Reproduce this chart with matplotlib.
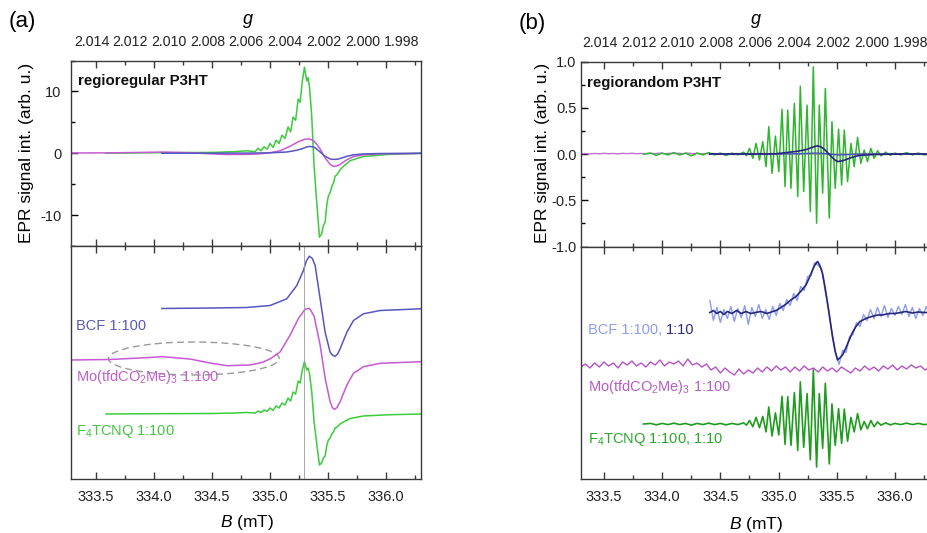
import numpy as np
import matplotlib
matplotlib.use('Agg')
import matplotlib.pyplot as plt
from matplotlib.patches import Ellipse
from matplotlib.ticker import MultipleLocator, FormatStrFormatter, NullLocator

plt.rcParams['font.family'] = ['Liberation Sans', 'DejaVu Sans']
plt.rcParams['mathtext.fontset'] = 'custom'
plt.rcParams['mathtext.rm'] = 'Liberation Sans'
plt.rcParams['mathtext.it'] = 'Liberation Sans:italic'
plt.rcParams['mathtext.default'] = 'regular'
plt.rcParams['axes.unicode_minus'] = False

# g = G_CONST / B(mT)
G_CONST = 2.002 * 335.465
g_ticks = [2.014, 2.012, 2.010, 2.008, 2.006, 2.004, 2.002, 2.000, 1.998]

# ---- panel (a): regioregular P3HT, normalised traces (bottom panel units) ----
a_f4_B = [333.59, 334.0, 334.5, 334.7, 334.8, 334.872, 334.898, 334.924, 334.950, 334.976,
          335.001, 335.027, 335.053, 335.079, 335.104, 335.130, 335.156, 335.178, 335.199, 335.221,
          335.243, 335.260, 335.277, 335.297, 335.317, 335.328, 335.341, 335.360, 335.380, 335.404,
          335.426, 335.445, 335.460, 335.475, 335.490, 335.503, 335.518, 335.533, 335.547, 335.561,
          335.578, 335.604, 335.633, 335.656, 335.690, 335.805, 336.006, 336.30]
a_f4_y = [0, 0.3, 0.5, 1, 1.5, 1, 3, 1.5, 4, 2.5,
          6, 3.5, 8, 6, 11, 9, 16, 13, 22, 20,
          33, 31, 43, 52.3, 44, 46, 40, 22, -8, -31,
          -51, -49, -44, -42, -31, -26, -24, -20, -18, -14,
          -13, -10, -8, -6.5, -4.5, -2, -0.8, 0]

a_mo_B = [333.29, 333.62, 333.88, 334.08, 334.31, 334.485, 334.63, 334.83, 334.93, 335.00,
          335.087, 335.174, 335.246, 335.30, 335.34, 335.38, 335.432, 335.475, 335.518, 335.537,
          335.555, 335.578, 335.604, 335.662, 335.719, 335.805, 335.949, 336.30]
a_mo_y = [1, 1.5, 3, 4.3, 2, -2, -4.7, -4, -1.5, 2,
          9, 26, 42.7, 51.5, 52.7, 45, 16, -17.3, -40.7, -46.5,
          -48.3, -46.5, -40.7, -24, -12.3, -5.7, -2.3, -0.7]

a_bcf_B = [334.07, 334.5, 334.8, 335.001, 335.145, 335.231, 335.288, 335.315, 335.340, 335.365,
           335.389, 335.432, 335.475, 335.518, 335.540, 335.561, 335.582, 335.604, 335.662, 335.719,
           335.805, 335.949, 336.30]
a_bcf_y = [0, 0.5, 1, 3, 9.7, 23, 38, 48, 52.3, 50,
           43, 9.7, -23.7, -43.7, -46.8, -47.7, -45.5, -40.3, -23.7, -12,
           -5.3, -2, -0.3]

# amplitude of each trace in the upper panel (arb. u. per normalised unit)
a_top_scale = {'f4': 0.266, 'mo': 0.044, 'bcf': 0.021}
a_offset = {'f4': 64.5, 'mo': 117.5, 'bcf': 170}

# ---- panel (b): regiorandom P3HT ----
b_f4_B = [333.84, 333.90, 333.95, 334.00, 334.05, 334.10, 334.15, 334.20, 334.25, 334.30,
          334.35, 334.40, 334.45, 334.50, 334.55, 334.60, 334.65, 334.70, 334.725, 334.750,
          334.779, 334.807, 334.836, 334.864, 334.893, 334.916, 334.944, 334.973, 335.002, 335.030,
          335.056, 335.079, 335.107, 335.136, 335.165, 335.187, 335.216, 335.245, 335.273, 335.299,
          335.327, 335.350, 335.379, 335.402, 335.436, 335.459, 335.487, 335.516, 335.542, 335.565,
          335.593, 335.622, 335.650, 335.679, 335.707, 335.736, 335.764, 335.793, 335.821, 335.851,
          335.88, 335.92, 335.96, 336.00, 336.05, 336.10, 336.15, 336.20, 336.25, 336.31]
b_f4_v = [0, 0.01, -0.015, 0.01, -0.01, 0.015, -0.01, 0.01, -0.02, 0.01,
          -0.01, 0.015, -0.01, 0.01, -0.015, 0.01, -0.01, 0.02, -0.02, 0.061,
          -0.047, 0.115, -0.065, 0.133, -0.137, 0.295, -0.209, 0.194, -0.191, 0.482,
          -0.353, 0.475, -0.371, 0.547, -0.46, 0.733, -0.406, 0.529, -0.622, 0.942,
          -0.748, 0.529, -0.424, 0.708, -0.694, 0.349, -0.371, 0.267, -0.335, 0.259,
          -0.299, 0.115, -0.137, 0.18, -0.101, 0.043, -0.083, 0.061, -0.047, 0.036,
          -0.02, 0.02, -0.015, 0.01, -0.01, 0.015, -0.01, 0.01, -0.01, 0.0]

b_bcf10_B = [334.41, 334.44, 334.47, 334.50, 334.53, 334.56, 334.60, 334.64, 334.68, 334.72,
             334.76, 334.80, 334.85, 334.90, 334.95, 334.98, 335.02, 335.06, 335.10, 335.15,
             335.19, 335.236, 335.265, 335.292, 335.315, 335.335, 335.355, 335.378, 335.40, 335.421,
             335.443, 335.464, 335.485, 335.507, 335.53, 335.55, 335.58, 335.607, 335.635, 335.665,
             335.70, 335.75, 335.80, 335.85, 335.893, 335.95, 336.0, 336.05, 336.093, 336.15,
             336.2, 336.25, 336.31]
b_bcf10_y = [0, 2, -1, 1, -2, 1, -1, 2, -1, 1,
             -1, 0, 1, -1, 1, 2, 5, 8, 12, 16,
             21, 27.5, 35, 42.5, 48, 51, 47, 39, 25, 9,
             -8, -24, -38, -47.5, -45, -42.5, -35, -27.5, -20, -14,
             -9, -6, -4, -2.5, -2.5, -1, -1, 0, 1, -0.5,
             0.5, 0, 0]

b_bcf100_B = [334.41, 334.44, 334.47, 334.50, 334.53, 334.56, 334.59, 334.62, 334.65, 334.68,
              334.71, 334.74, 334.77, 334.80, 334.83, 334.86, 334.89, 334.92, 334.95, 334.98,
              335.01, 335.04, 335.07, 335.10, 335.13, 335.16, 335.19, 335.22, 335.25, 335.28,
              335.31, 335.34, 335.37, 335.40, 335.43, 335.46, 335.49, 335.52, 335.55, 335.58,
              335.61, 335.64, 335.67, 335.70, 335.73, 335.76, 335.79, 335.82, 335.85, 335.88,
              335.91, 335.94, 335.97, 336.00, 336.03, 336.06, 336.09, 336.12, 336.15, 336.18,
              336.21, 336.24, 336.27, 336.30]
b_bcf100_y = [12, -8, 5, -10, 3, -6, 6, -9, 4, -5,
              7, -12, 5, -4, 8, -6, 3, -7, 6, -3,
              9, 2, 13, 7, 19, 12, 26, 22, 36, 37,
              50, 47, 44, 22, 4, -22, -40, -52, -38, -40,
              -24, -22, -10, -14, -2, -8, 3, -6, 5, -4,
              7, -5, 4, -3, 6, -2, 8, -4, 5, -6,
              4, -3, 6, -4]

b_mo_B = [333.30, 333.34, 333.38, 333.42, 333.46, 333.50, 333.54, 333.58, 333.62, 333.66,
          333.70, 333.74, 333.78, 333.82, 333.86, 333.90, 333.94, 333.98, 334.02, 334.06,
          334.10, 334.14, 334.18, 334.22, 334.26, 334.30, 334.34, 334.38, 334.42, 334.46,
          334.50, 334.54, 334.58, 334.62, 334.66, 334.70, 334.74, 334.78, 334.82, 334.86,
          334.90, 334.94, 334.98, 335.02, 335.06, 335.10, 335.14, 335.18, 335.22, 335.26,
          335.30, 335.34, 335.38, 335.42, 335.46, 335.50, 335.54, 335.58, 335.62, 335.66,
          335.70, 335.74, 335.78, 335.82, 335.86, 335.90, 335.94, 335.98, 336.02, 336.06,
          336.10, 336.14, 336.18, 336.22, 336.26, 336.30]
b_mo_y = [2, 5, 1, 6, 2, 7, 3, 6, 1, 7,
          4, 8, 3, 6, 2, 7, 4, 9, 3, 7,
          5, 8, 3, 10, 4, 6, 2, 5, -1, 2,
          -4, 1, -3, -6, 0, -5, -1, -4, 1, -3,
          2, -2, 3, -1, 2, -3, 2, -2, 3, -1,
          1, -3, 2, -2, 1, -3, 2, -1, -4, 1,
          -2, 3, -1, 2, -2, 3, 0, 4, -1, 3,
          0, 4, 1, 3, -1, 2]

b_top_scale = {'bcf10': 0.00172, 'bcf100': 0.0002, 'mo': 0.001}
b_offset = {'bcf': 166, 'mo': 109.5, 'f4': 54.5}
b_f4_bottom_scale = 57.5

# colours
c_a = {'f4': '#3bcc3b', 'mo': '#c75ad3', 'bcf': '#5656c0'}
c_b = {'f4': '#1f9c1f', 'mo': '#b552c6', 'bcf10': '#26267c', 'bcf100': '#8c9cf0'}

TICK_FS = 10.5
G_FS = 10.2
LAB_FS = 10.5

W, H = 928, 533
fig = plt.figure(figsize=(W / 100, H / 100), dpi=100)


def px_axes(x0, y0, x1, y1):
    return fig.add_axes([x0 / W, 1 - y1 / H, (x1 - x0) / W, (y1 - y0) / H])


def b_to_g(b):
    b = np.asarray(b, dtype=float)
    with np.errstate(divide='ignore', invalid='ignore'):
        return G_CONST / b


def style(ax, xlim, labelbottom):
    for s in ax.spines.values():
        s.set_color('#3a3a3a')
        s.set_linewidth(1.0)
    ax.set_xlim(*xlim)
    ax.xaxis.set_major_locator(MultipleLocator(0.5))
    ax.xaxis.set_minor_locator(MultipleLocator(0.25))
    ax.xaxis.set_major_formatter(FormatStrFormatter('%.1f'))
    ax.tick_params(axis='x', which='both', direction='in', top=True, bottom=True,
                   labelbottom=labelbottom, labelsize=TICK_FS, pad=8, color='#3a3a3a',
                   labelcolor='#222222')
    ax.tick_params(which='major', length=5, width=1)
    ax.tick_params(which='minor', length=3, width=1)


def add_g_axis(ax):
    sec = ax.secondary_xaxis('top', functions=(b_to_g, b_to_g))
    sec.set_xticks(g_ticks)
    sec.xaxis.set_minor_locator(NullLocator())
    sec.xaxis.set_major_formatter(FormatStrFormatter('%.3f'))
    sec.tick_params(length=0, pad=8, labelsize=G_FS, labelcolor='#222222')
    sec.spines['top'].set_visible(False)


def px_text(x, y, s, **kw):
    fig.text(x / W, 1 - y / H, s, **kw)


# ================= panel (a) =================
xa = (333.288, 336.30)
axa1 = px_axes(71, 60.5, 421, 246)
axa2 = px_axes(71, 246, 421, 478.5)
for ax, lb in [(axa1, False), (axa2, True)]:
    style(ax, xa, lb)

axa1.plot(a_f4_B, np.array(a_f4_y) * a_top_scale['f4'], color=c_a['f4'], lw=1.1)
axa1.plot(a_mo_B, np.array(a_mo_y) * a_top_scale['mo'], color=c_a['mo'], lw=1.1)
axa1.plot(a_bcf_B, np.array(a_bcf_y) * a_top_scale['bcf'], color=c_a['bcf'], lw=1.1)
axa1.set_ylim(-15, 15)
axa1.yaxis.set_major_locator(MultipleLocator(10))
axa1.yaxis.set_minor_locator(MultipleLocator(5))
axa1.tick_params(axis='y', which='both', direction='in', left=True, right=False,
                 labelsize=TICK_FS, pad=7, labelcolor='#222222')
axa1.text(0.02, 0.89, 'regioregular P3HT', transform=axa1.transAxes, fontsize=10.8,
          fontweight='bold', va='center', ha='left', color='#111111')
add_g_axis(axa1)

axa2.plot(a_bcf_B, np.array(a_bcf_y) + a_offset['bcf'], color=c_a['bcf'], lw=1.1)
axa2.plot(a_mo_B, np.array(a_mo_y) + a_offset['mo'], color=c_a['mo'], lw=1.1)
axa2.plot(a_f4_B, np.array(a_f4_y) + a_offset['f4'], color=c_a['f4'], lw=1.1)
axa2.axvline(335.297, color='#9a9a9a', lw=0.6)
axa2.add_patch(Ellipse((334.345, 120), 1.47, 33, fill=False, ls=(0, (5, 3)),
                       ec='#9a9a9a', lw=1.0))
axa2.set_ylim(0, 232.5)
axa2.tick_params(axis='y', left=False, labelleft=False)
axa2.text(333.33, 152.5, 'BCF 1:100', color='#5a5ab8', fontsize=LAB_FS, va='center')
axa2.text(333.33, 101.5, 'Mo(tfdCO$_2$Me)$_3$ 1:100', color='#c060cc', fontsize=LAB_FS, va='center')
axa2.text(333.33, 47.5, 'F$_4$TCNQ 1:100', color='#40c840', fontsize=LAB_FS, va='center')

# ================= panel (b) =================
xb = (333.30, 336.31)
axb1 = px_axes(580.7, 61.5, 931, 246.5)
axb2 = px_axes(580.7, 246.5, 931, 478.5)
for ax, lb in [(axb1, False), (axb2, True)]:
    style(ax, xb, lb)

axb1.plot(b_mo_B, np.array(b_mo_y) * b_top_scale['mo'], color='#c070d0', lw=1.0)
axb1.plot(b_f4_B, b_f4_v, color='#2fb52f', lw=1.1)
axb1.plot(b_bcf100_B, np.array(b_bcf100_y) * b_top_scale['bcf100'], color='#4555b8', lw=1.0)
axb1.plot(b_bcf10_B, np.array(b_bcf10_y) * b_top_scale['bcf10'], color=c_b['bcf10'], lw=1.2)
axb1.set_ylim(-1, 1)
axb1.yaxis.set_major_locator(MultipleLocator(0.5))
axb1.yaxis.set_minor_locator(MultipleLocator(0.25))
axb1.yaxis.set_major_formatter(FormatStrFormatter('%.1f'))
axb1.tick_params(axis='y', which='both', direction='in', left=True, right=False,
                 labelsize=TICK_FS, pad=3, labelcolor='#222222')
axb1.text(0.018, 0.884, 'regiorandom P3HT', transform=axb1.transAxes, fontsize=10.8,
          fontweight='bold', va='center', ha='left', color='#111111')
add_g_axis(axb1)

axb2.plot(b_bcf100_B, np.array(b_bcf100_y) + b_offset['bcf'], color=c_b['bcf100'], lw=1.0)
axb2.plot(b_bcf10_B, np.array(b_bcf10_y) + b_offset['bcf'], color=c_b['bcf10'], lw=1.2)
axb2.plot(b_mo_B, np.array(b_mo_y) + b_offset['mo'], color=c_b['mo'], lw=1.0)
axb2.plot(b_f4_B, np.array(b_f4_v) * b_f4_bottom_scale + b_offset['f4'], color=c_b['f4'], lw=1.2)
axb2.set_ylim(0, 232)
axb2.tick_params(axis='y', left=False, labelleft=False)
t_bcf = axb2.text(333.36, 148.5, 'BCF 1:100,', color='#8d9cec', fontsize=LAB_FS, va='center')
axb2.annotate('1:10', xy=(1, 0.5), xycoords=t_bcf, xytext=(3, 0), textcoords='offset points',
              color='#2a2a80', fontsize=LAB_FS, va='center', ha='left')
axb2.text(333.36, 91.8, 'Mo(tfdCO$_2$Me)$_3$ 1:100', color='#b85cc8', fontsize=LAB_FS, va='center')
axb2.text(333.36, 38.5, 'F$_4$TCNQ 1:100, 1:10', color='#2aa82a', fontsize=LAB_FS, va='center')

# ================= figure labels =================
px_text(22, 21, '(a)', fontsize=16, ha='center', va='center')
px_text(532, 23, '(b)', fontsize=16, ha='center', va='center')
px_text(248, 19, 'g', fontsize=13, style='italic', ha='center', va='center')
px_text(756, 19, 'g', fontsize=13, style='italic', ha='center', va='center')
px_text(247, 523, '$\\mathit{B}$ (mT)', fontsize=12.5, ha='center', va='center')
px_text(756, 525, '$\\mathit{B}$ (mT)', fontsize=12.5, ha='center', va='center')
px_text(27, 153, 'EPR signal int. (arb. u.)', fontsize=12.5, rotation=90, ha='center',
        va='center')
px_text(542, 153, 'EPR signal int. (arb. u.)', fontsize=12.5, rotation=90, ha='center',
        va='center')

fig.savefig('out.png', dpi=100)
